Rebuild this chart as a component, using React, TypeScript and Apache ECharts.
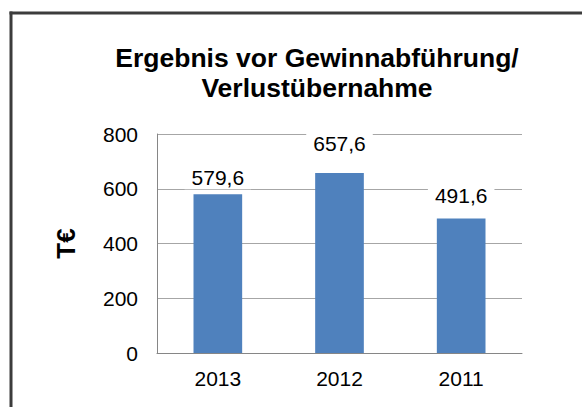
import React, { useEffect, useRef } from "react";
import * as echarts from "echarts";

const titleLines = ["Ergebnis vor Gewinnabführung/", "Verlustübernahme"];
const categories = ["2013", "2012", "2011"];
const values = [579.6, 657.6, 491.6];
const yTicks = { min: 0, max: 800, interval: 200 };
const yName = "T€";
// label distances above each bar (styling, as placed in the original)
const labelDistances = [5, 18, 11];

const FONT = "Liberation Sans, Arial, Helvetica, sans-serif";

export default function App() {
  const ref = useRef<HTMLDivElement>(null);
  useEffect(() => {
    document.body.style.margin = "0";
    document.body.style.overflow = "hidden";
    if (!ref.current) return;
    const chart = echarts.init(ref.current, undefined, { renderer: "svg" });
    chart.setOption({
      animation: false,
      backgroundColor: "#ffffff",
      textStyle: { fontFamily: FONT },
      graphic: [
        {
          type: "line",
          shape: { x1: 9.5, y1: 13, x2: 582, y2: 13 },
          style: { stroke: "#3c3c3c", lineWidth: 3 },
          silent: true,
        },
        {
          type: "line",
          shape: { x1: 11, y1: 11.5, x2: 11, y2: 407 },
          style: { stroke: "#3c3c3c", lineWidth: 3 },
          silent: true,
        },
      ],
      title: {
        text: titleLines.join("\n"),
        left: 312,
        top: 38,
        textAlign: "center",
        textStyle: {
          fontFamily: FONT,
          fontSize: 26.5,
          fontWeight: "bold",
          color: "#000",
          lineHeight: 30,
          align: "center",
        },
      },
      grid: { left: 157, top: 134, right: 60, bottom: 54, containLabel: false },
      xAxis: {
        type: "category",
        data: categories,
        axisLine: { lineStyle: { color: "#868686", width: 1 } },
        axisTick: { show: false },
        axisLabel: { fontFamily: FONT, fontSize: 21, color: "#000", margin: 15 },
      },
      yAxis: {
        type: "value",
        min: yTicks.min,
        max: yTicks.max,
        interval: yTicks.interval,
        name: yName,
        nameLocation: "middle",
        nameRotate: 90,
        nameGap: 78,
        nameTextStyle: { fontFamily: FONT, fontSize: 26, fontWeight: "bold", color: "#000" },
        axisLine: { show: true, lineStyle: { color: "#868686", width: 1 } },
        axisTick: { show: false },
        axisLabel: { fontFamily: FONT, fontSize: 21, color: "#000", margin: 19 },
        splitLine: { lineStyle: { color: "#a6a6a6", width: 1 } },
      },
      series: [
        {
          type: "bar",
          data: values.map((v, i) => ({
            value: v,
            label: { distance: labelDistances[i] },
          })),
          barWidth: "40%",
          itemStyle: { color: "#4F81BD" },
          label: {
            show: true,
            position: "top",
            fontFamily: FONT,
            fontSize: 21,
            color: "#000",
            backgroundColor: "#ffffff",
            padding: [1, 7],
            formatter: (p: any) => p.value.toFixed(1).replace(".", ","),
          },
        },
      ],
    });
    return () => chart.dispose();
  }, []);
  return (
    <div
      ref={ref}
      style={{ position: "fixed", left: 0, top: 0, width: 582, height: 407 }}
    />
  );
}
